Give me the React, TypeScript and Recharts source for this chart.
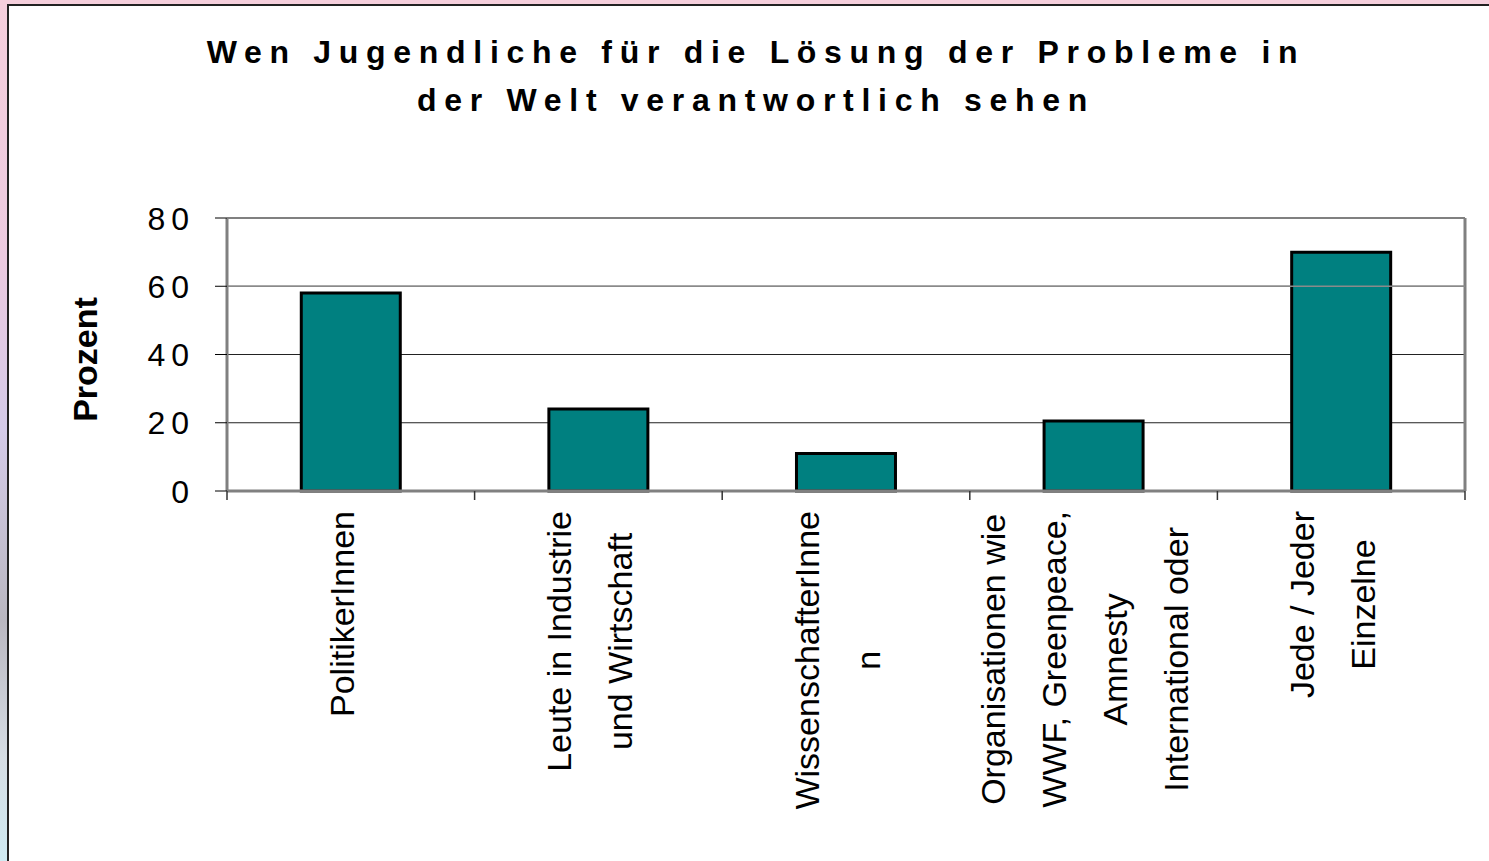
import React from 'react'
import { BarChart, Bar, XAxis, YAxis, CartesianGrid, ReferenceLine } from 'recharts'

const TITLE_LINES = ['Wen Jugendliche für die Lösung der Probleme in', 'der Welt verantwortlich sehen']

const CATEGORIES = [
  'PolitikerInnen',
  'Leute in Industrie und Wirtschaft',
  'WissenschafterInnen',
  'Organisationen wie WWF, Greenpeace, Amnesty International oder',
  'Jede / Jeder Einzelne',
]

// how the original wraps each category label
const LABEL_LINES = [
  ['PolitikerInnen'],
  ['Leute in Industrie', 'und Wirtschaft'],
  ['WissenschafterInne', 'n'],
  ['Organisationen wie', 'WWF, Greenpeace,', 'Amnesty', 'International oder'],
  ['Jede / Jeder', 'Einzelne'],
]

const VALUES = [58, 24, 11, 20.5, 70]
const Y_TICKS = [0, 20, 40, 60, 80]

const FONT = "'Liberation Sans', Arial, sans-serif"
const LABEL_SIZE = 34

const data = CATEGORIES.map((name, i) => ({ name, value: VALUES[i], lines: LABEL_LINES[i] }))

let ctx: CanvasRenderingContext2D | null = null
function textWidth(text: string, font: string) {
  if (!ctx) ctx = document.createElement('canvas').getContext('2d')
  if (!ctx) return text.length * 16
  ctx.font = font
  return ctx.measureText(text).width
}

function XTick({ x, y, payload, index, visibleTicksCount }: any) {
  const lines: string[] = LABEL_LINES[index] ?? [String(payload.value)]
  const half = payload.offset ?? 0
  const maxLen = Math.max(...lines.map((l) => textWidth(l, `${LABEL_SIZE}px ${FONT}`)))
  const n = lines.length
  const isLast = index === visibleTicksCount - 1
  return (
    <g>
      <line x1={x - half} x2={x - half} y1={y} y2={y + 9} stroke="#333" strokeWidth={1.5} />
      {isLast && <line x1={x + half} x2={x + half} y1={y} y2={y + 9} stroke="#333" strokeWidth={1.5} />}
      <g transform={`translate(${x - 1},${y + 20 + maxLen / 2}) rotate(-90)`}>
        {lines.map((line, i) => (
          <text
            key={i}
            x={0}
            y={4 + (i - (n - 1) / 2) * 61}
            textAnchor="middle"
            fontSize={LABEL_SIZE}
            fontFamily={FONT}
            fill="#000"
          >
            {line}
          </text>
        ))}
      </g>
    </g>
  )
}

function YTick({ x, y, payload }: any) {
  return (
    <text x={x} y={y} dy={11.5} textAnchor="end" fontSize={32} fontFamily={FONT} letterSpacing={6} fill="#000">
      {payload.value}
    </text>
  )
}

function YLabel({ viewBox }: any) {
  const cy = viewBox.y + viewBox.height / 2 + 5
  return (
    <text
      transform={`translate(${viewBox.x + 97},${cy}) rotate(-90)`}
      textAnchor="middle"
      fontSize={34}
      fontWeight="bold"
      fontFamily={FONT}
      fill="#000"
    >
      Prozent
    </text>
  )
}

export default function App() {
  return (
    <div
      style={{
        position: 'relative',
        width: 1489,
        height: 861,
        overflow: 'hidden',
        background: 'linear-gradient(to bottom, #f5cfdc 0%, #eccbe0 30%, #d4cbe8 50%, #b9b7c0 72%, #d6dde4 88%, #cfeaf2 100%)',
        fontFamily: FONT,
      }}
    >
      <style>{'body{margin:0}'}</style>
      <div
        style={{
          position: 'absolute',
          left: 7,
          top: 4,
          width: 1489,
          height: 861,
          background: '#fff',
          borderLeft: '2px solid #222',
          borderTop: '2px solid #222',
        }}
      />
      <div
        style={{
          position: 'absolute',
          left: 0,
          top: 28,
          width: 1504,
          paddingLeft: 8,
          boxSizing: 'border-box',
          textAlign: 'center',
          fontSize: 32,
          fontWeight: 'bold',
          letterSpacing: 7.7,
          lineHeight: '48px',
          color: '#000',
        }}
      >
        {TITLE_LINES.map((l) => (
          <div key={l}>{l}</div>
        ))}
      </div>
      <div style={{ position: 'absolute', left: 0, top: 0 }}>
        <BarChart
          width={1489}
          height={861}
          data={data}
          margin={{ top: 218, right: 24, bottom: 0, left: 0 }}
          barCategoryGap="30%"
        >
          <CartesianGrid vertical={false} stroke="#222" strokeWidth={1} />
          <CartesianGrid
            horizontal={false}
            verticalCoordinatesGenerator={({ offset }: any) => [offset.left + offset.width]}
            stroke="#808080"
            strokeWidth={3}
          />
          <ReferenceLine y={80} stroke="#808080" strokeWidth={2} />
          <ReferenceLine y={60} stroke="#8a8a8a" strokeWidth={1.5} />
          <XAxis
            dataKey="name"
            height={370}
            interval={0}
            tickLine={false}
            tickSize={0}
            tickMargin={0}
            axisLine={{ stroke: '#808080', strokeWidth: 3 }}
            tick={<XTick />}
          />
          <YAxis
            width={227}
            domain={[0, 80]}
            ticks={Y_TICKS}
            interval={0}
            tickSize={12}
            tickMargin={20}
            tickLine={{ stroke: '#000', strokeWidth: 1 }}
            axisLine={{ stroke: '#808080', strokeWidth: 3 }}
            tick={<YTick />}
            label={<YLabel />}
          />
          <Bar dataKey="value" fill="#008080" stroke="#000" strokeWidth={3} isAnimationActive={false} />
        </BarChart>
      </div>
    </div>
  )
}
